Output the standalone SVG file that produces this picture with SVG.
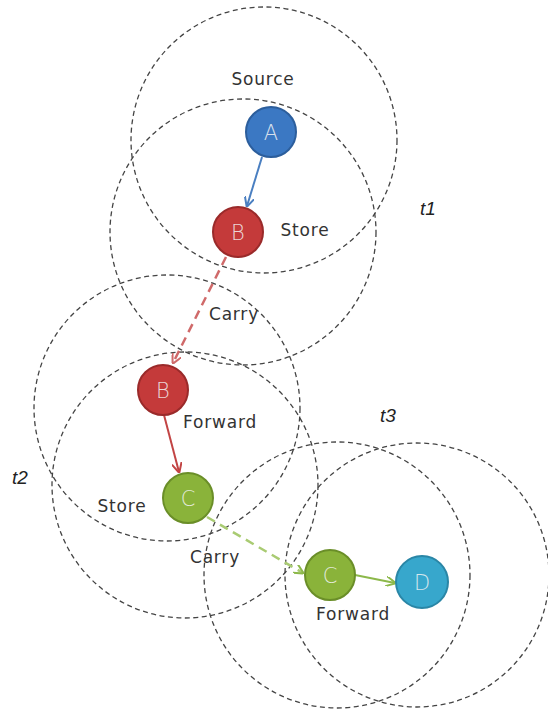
<svg xmlns="http://www.w3.org/2000/svg" width="548" height="713" viewBox="0 0 548 713">
<style>
.rng{fill:none;stroke:#444;stroke-width:1.3;stroke-dasharray:5 3.5}
.lbl{font-family:"DejaVu Sans",sans-serif;font-size:17px;letter-spacing:0.8px;fill:#333;text-anchor:middle}
.t{font-family:"Liberation Sans",Arial,sans-serif;font-size:19px;font-style:italic;fill:#222;text-anchor:middle}
.nl{font-family:"DejaVu Sans",sans-serif;font-size:21px;font-weight:200;fill:#f4f4f4;fill-opacity:0.85;text-anchor:middle;dominant-baseline:central}
</style>
<defs>
<marker id="mb" viewBox="0 0 10 10" refX="9" refY="5" markerWidth="10" markerHeight="10" markerUnits="userSpaceOnUse" orient="auto"><path d="M0,0 L10,5 L0,10" fill="none" stroke="#4a7fc1" stroke-width="2"/></marker>
<marker id="mr" viewBox="0 0 10 10" refX="9" refY="5" markerWidth="10" markerHeight="10" markerUnits="userSpaceOnUse" orient="auto"><path d="M0,0 L10,5 L0,10" fill="none" stroke="#c24444" stroke-width="2"/></marker>
<marker id="mrd" viewBox="0 0 10 10" refX="9" refY="5" markerWidth="10" markerHeight="10" markerUnits="userSpaceOnUse" orient="auto"><path d="M0,0 L10,5 L0,10" fill="none" stroke="#d06a6a" stroke-width="2"/></marker>
<marker id="mg" viewBox="0 0 10 10" refX="9" refY="5" markerWidth="10" markerHeight="10" markerUnits="userSpaceOnUse" orient="auto"><path d="M0,0 L10,5 L0,10" fill="none" stroke="#8cb84a" stroke-width="2"/></marker>
</defs>
<rect width="548" height="713" fill="#fff"/>
<g id="ranges">
<circle class="rng" cx="264" cy="140" r="133"/>
<circle class="rng" cx="243" cy="232" r="133"/>
<circle class="rng" cx="167" cy="408" r="133"/>
<circle class="rng" cx="185" cy="485" r="133"/>
<circle class="rng" cx="337" cy="575" r="133"/>
<circle class="rng" cx="417" cy="575" r="132"/>
</g>
<g id="connectors">
<line x1="262" y1="157" x2="247" y2="206" stroke="#4a7fc1" stroke-width="2" marker-end="url(#mb)"/>
<line x1="226" y1="257" x2="173" y2="363" stroke="#d06a6a" stroke-width="2.5" stroke-dasharray="9 6" marker-end="url(#mrd)"/>
<line x1="164" y1="415" x2="179" y2="472" stroke="#c24444" stroke-width="2" marker-end="url(#mr)"/>
<line x1="207" y1="517" x2="303" y2="573" stroke="#a9cb72" stroke-width="2.5" stroke-dasharray="9 6" marker-end="url(#mg)"/>
<line x1="355" y1="575" x2="395" y2="583" stroke="#8cb84a" stroke-width="2" marker-end="url(#mg)"/>
</g>
<g id="nodeA"><circle cx="271" cy="132" r="25" fill="#3b78c3" stroke="#2c5e9c" stroke-width="2"/><text class="nl" x="271" y="133">A</text></g>
<g id="nodeB1"><circle cx="238" cy="232" r="25" fill="#c43a3a" stroke="#9a2a2a" stroke-width="2"/><text class="nl" x="238" y="233">B</text></g>
<g id="nodeB2"><circle cx="163" cy="390" r="25" fill="#c43a3a" stroke="#9a2a2a" stroke-width="2"/><text class="nl" x="163" y="391">B</text></g>
<g id="nodeC1"><circle cx="188" cy="498" r="25" fill="#8ab33a" stroke="#6a8e28" stroke-width="2"/><text class="nl" x="188" y="499">C</text></g>
<g id="nodeC2"><circle cx="330" cy="575" r="25" fill="#8ab33a" stroke="#6a8e28" stroke-width="2"/><text class="nl" x="330" y="576">C</text></g>
<g id="nodeD"><circle cx="422" cy="582" r="26" fill="#37a7cc" stroke="#2a86a6" stroke-width="2"/><text class="nl" x="422" y="583">D</text></g>
<g id="labels">
<text class="lbl" x="263" y="85">Source</text>
<text class="lbl" x="305" y="236">Store</text>
<text class="lbl" x="234" y="320">Carry</text>
<text class="lbl" x="220" y="428">Forward</text>
<text class="lbl" x="122" y="512">Store</text>
<text class="lbl" x="215" y="563">Carry</text>
<text class="lbl" x="353" y="620">Forward</text>
<text class="t" x="428" y="215">t1</text>
<text class="t" x="20" y="484">t2</text>
<text class="t" x="388" y="422">t3</text>
</g>
</svg>
